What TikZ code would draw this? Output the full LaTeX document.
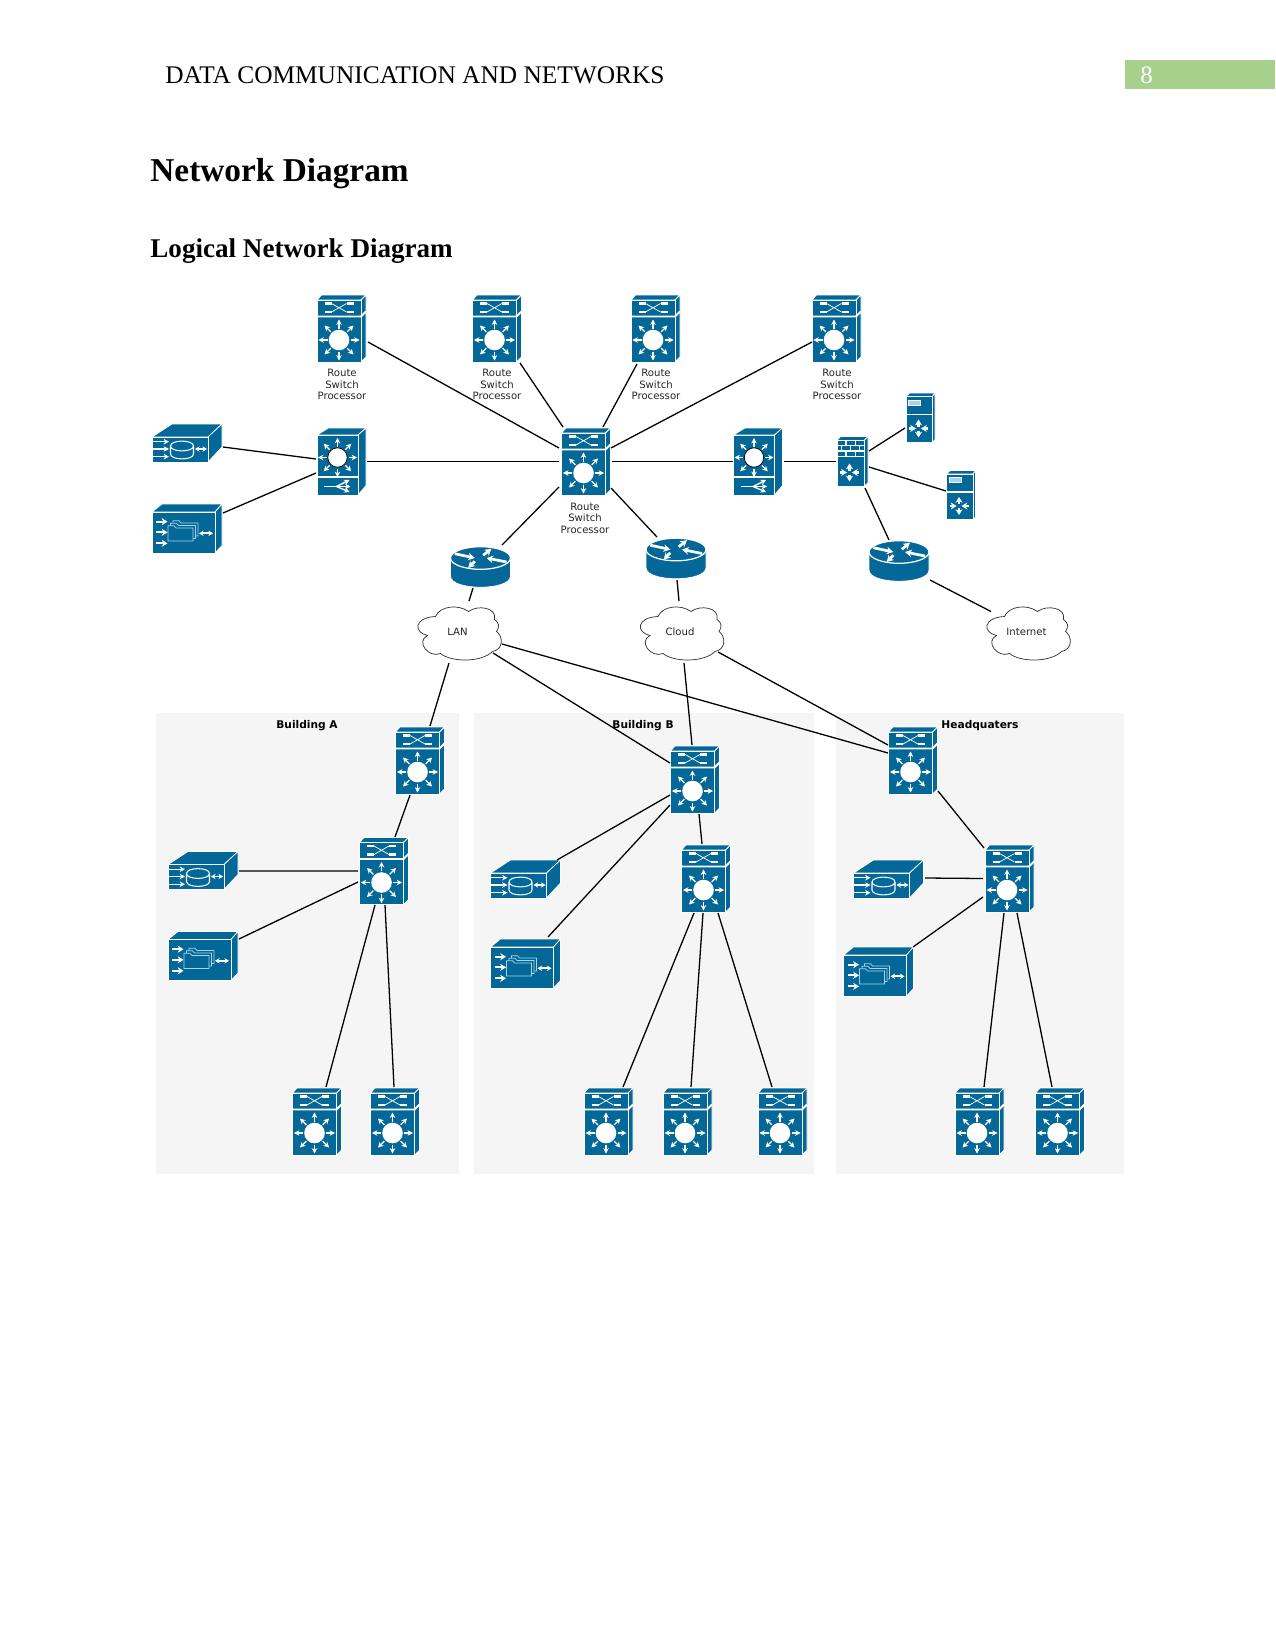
\documentclass[tikz,border=0pt]{standalone}
\usepackage{fontspec}
\setmainfont{Liberation Serif}
\newfontfamily\vf{DejaVu Sans}
\usetikzlibrary{arrows.meta}
\definecolor{ciscoblue}{HTML}{036897}
\definecolor{paneltint}{HTML}{F5F5F5}
\definecolor{headergreen}{HTML}{A8D08D}
\definecolor{foldertint}{HTML}{A9D4E8}
\tikzset{
  link/.style={black,line width=0.62pt},
  face/.style={fill=ciscoblue,draw=white,line width=0.35pt,line join=round},
  wl/.style={draw=white,line width=0.5pt},
  wa/.style={draw=white,line width=0.65pt,-{Stealth[length=2.6pt,width=2.7pt]}},
  wda/.style={draw=white,line width=0.6pt,{Stealth[length=2.2pt,width=2.6pt]}-{Stealth[length=2.2pt,width=2.6pt]}},
  wta/.style={draw=white,line width=1.1pt,-{Stealth[length=2.8pt,width=3.4pt]}},
  wra/.style={draw=white,line width=1.3pt,-{Stealth[length=3.2pt,width=3.6pt]}},
  tinytext/.style={font=\fontsize{4.85}{5.5}\selectfont\vf,align=center,inner sep=0pt,text=black!85},
  paneltitle/.style={font=\fontsize{5.1}{6}\selectfont\vf\bfseries,inner sep=0pt},
  panel/.style={fill=paneltint,draw=none},
  icsw/.pic={
    \path[face] (-24.5,-28.5) -- (-20,-33.5) -- (24.5,-33.5) -- (19.5,-28.5) -- cycle;
    \path[face] (19.5,-28.5) -- (24.5,-33.5) -- (24.5,28.5) -- (19.5,33.5) -- cycle;
    \path[face] (-24.5,-28.5) rectangle (19.5,33.5);
    \draw[white,line width=0.9pt] (-24.5,-12) -- (19.5,-12) -- (24.5,-17);
    \draw[white,line width=1.3pt] (-17,-25) -- (-10,-25) (-17,-16.5) -- (-10,-16.5) (5,-25) -- (12,-25) (5,-16.5) -- (12,-16.5);
    \draw[wl,line width=0.35pt] (-10,-25) -- (5,-16.5) (-10,-16.5) -- (5,-25);
    \begin{scope}[shift={(-2.5,11.5)}]
      \fill[white] (0,0) circle[radius=10.3];
      \foreach \a in {0,45,...,315} \draw[wa] (\a:11.5) -- (\a:20.5);
    \end{scope}
  },
  icml/.pic={
    \path[face] (-24.5,-26.5) -- (-13,-33.5) -- (24.5,-33.5) -- (16.5,-26.5) -- cycle;
    \path[face] (16.5,-26.5) -- (24.5,-33.5) -- (24.5,24) -- (16.5,33.5) -- cycle;
    \path[face] (-24.5,-26.5) rectangle (16.5,33.5);
    \draw[white,line width=0.8pt] (-24.5,15.5) -- (16.5,15.5);
    \begin{scope}[shift={(-4,-4)}]
      \fill[white,draw=black,line width=0.35pt] (0,0) circle[radius=9.7];
      \foreach \a in {0,45,...,315} \draw[wa] (\a:11) -- (\a:19.5);
    \end{scope}
    \draw[wl] (-17.5,25) -- (-5,25);
    \draw[wa] (-5,25) -- (8,18.5);
    \draw[wa] (-5,25) -- (9,25);
    \draw[wa] (-5,25) -- (8,30.5);
  },
  icdb/.pic={
    \path[face] (-35,-6) -- (-15,-19) -- (35,-19) -- (21,-6) -- cycle;
    \path[face] (21,-6) -- (35,-19) -- (35,4) -- (21,19) -- cycle;
    \path[face] (-35,-6) rectangle (21,19);
    \foreach \y in {-1.3,6,13.7} \draw[wa] (-35,\y) -- (-18,\y);
    \path[fill=ciscoblue,draw=white,line width=0.5pt] (-16.5,3) -- (-16.5,11) .. controls (-16.5,17.5) and (6.5,17.5) .. (6.5,11) -- (6.5,3) .. controls (6.5,-3.5) and (-16.5,-3.5) .. (-16.5,3) .. controls (-16.5,9.5) and (6.5,9.5) .. (6.5,3);
    \draw[wda] (8,6) -- (20,6);
  },
  icfile/.pic={
    \path[face] (-35,-16.5) -- (-25,-24.5) -- (35,-24.5) -- (28,-16.5) -- cycle;
    \path[face] (28,-16.5) -- (35,-24.5) -- (35,17) -- (28,24.5) -- cycle;
    \path[face] (-35,-16.5) rectangle (28,24.5);
    \foreach \y in {-6.8,3.8,14.8} \draw[wta,line width=0.85pt] (-31,\y) -- (-19.5,\y);
    \foreach \d in {5,2.5,0} {
      \path[fill=ciscoblue,draw=foldertint,line width=0.35pt] (-19+\d,-2.8-\d) -- (-13+\d,-2.8-\d) -- (-11+\d,-0.5-\d) -- (6+\d,-0.5-\d) -- (6+\d,12.5-\d) -- (-19+\d,12.5-\d) -- cycle;
    }
    \draw[wda,line width=0.85pt] (12,4.8) -- (26,4.8);
  },
  iccross/.pic={
    \draw[wta] (0,-2) -- (0,-9);
    \draw[wta] (0,2) -- (0,9);
    \draw[wta] (-9.5,0) -- (-2.5,0);
    \draw[wta] (9.5,0) -- (2.5,0);
  },
  icfw/.pic={
    \path[face] (-15.5,-21) -- (-12,-25) -- (15.5,-25) -- (11.5,-21) -- cycle;
    \path[face] (11.5,-21) -- (15.5,-25) -- (15.5,21) -- (11.5,25) -- cycle;
    \path[face] (-15.5,-21) rectangle (11.5,25);
    \draw[white,line width=0.7pt] (-15.5,-5) -- (11.5,-5);
    \draw[wl] (-15.5,-15.8) -- (11.5,-15.8) (-15.5,-10.5) -- (11.5,-10.5)
      (-6.5,-21) -- (-6.5,-15.8) (3,-21) -- (3,-15.8)
      (-11,-15.8) -- (-11,-10.5) (-2,-15.8) -- (-2,-10.5) (7,-15.8) -- (7,-10.5)
      (-6.5,-10.5) -- (-6.5,-5) (3,-10.5) -- (3,-5);
    \pic at (-3,11) {iccross};
  },
  icsrv/.pic={
    \path[face] (-14.5,-21) -- (-11,-24.5) -- (14.5,-24.5) -- (12,-21) -- cycle;
    \path[face] (12,-21) -- (14.5,-24.5) -- (14.5,22) -- (12,24.5) -- cycle;
    \path[face] (-14.5,-21) rectangle (12,24.5);
    \draw[white,line width=0.7pt] (-14.5,-3) -- (12,-3);
    \path[fill=foldertint,draw=white,line width=0.35pt] (-12,-17.5) rectangle (0,-12.5);
    \pic at (-2,11) {iccross};
  },
  icrt/.pic={
    \path[fill=ciscoblue,draw=white,line width=0.35pt] (-30,-9) -- (-30,9) .. controls (-30,24) and (30,24) .. (30,9) -- (30,-9) -- cycle;
    \path[fill=ciscoblue,draw=white,line width=0.6pt] (0,-9) ellipse[x radius=30,y radius=11.3];
    \draw[wra] (-25.7,-13.3) -- (-5.7,-9);
    \draw[wra] (2.7,-11.7) -- (11,-18.3);
    \draw[wra] (26,-5) -- (6,-9);
    \draw[wra] (-5.7,-5.7) -- (-12.3,1);
  },
  iccloud/.pic={
    \path[fill=white,draw=black!80,line width=0.35pt] (-24,-17)
      .. controls (-20,-27) and (-2,-30) .. (9,-22)
      .. controls (18,-29) and (38,-26) .. (35,-14)
      .. controls (40,-11) and (40,-6) .. (37,-2)
      .. controls (44,3) and (44,16) .. (33,18)
      .. controls (22,29) and (-8,29) .. (-19,20)
      .. controls (-31,25) and (-44,8) .. (-32,2)
      .. controls (-46,-1) and (-46,-16) .. (-24,-17) -- cycle;
  }
}
\newcommand{\ico}[6]{\node[inner sep=0pt,outer sep=0pt,minimum width=#5*0.48pt,minimum height=#6*0.48pt] (#1) at (#2,#3) {}; \pic at (#1) {#4};}
\newcommand{\sw}[3]{\ico{#1}{#2}{#3}{icsw}{49}{67}}
\newcommand{\ml}[3]{\ico{#1}{#2}{#3}{icml}{49}{67}}
\newcommand{\db}[3]{\ico{#1}{#2}{#3}{icdb}{70}{38}}
\newcommand{\fl}[3]{\ico{#1}{#2}{#3}{icfile}{70}{49}}
\newcommand{\rt}[3]{\ico{#1}{#2}{#3}{icrt}{60}{40}}
\newcommand{\srv}[3]{\ico{#1}{#2}{#3}{icsrv}{29}{49}}
\newcommand{\cld}[4]{\pic at (#2,#3) {iccloud}; \node[inner sep=0pt,outer sep=0pt,minimum size=1pt] (#1) at (#2,#3) {}; \node[inner sep=0pt,font=\fontsize{4.85}{5.5}\selectfont\vf,text=black!85] (#1t) at ([shift={(-2,-1.5)}]#1.center) {#4};}
\newcommand{\lnk}[6]{\draw[link] ([shift={(#2,#3)}]#1.center) -- ([shift={(#5,#6)}]#4.center);}
\begin{document}
\begin{tikzpicture}[x=0.48pt,y=-0.48pt]
\useasboundingbox (0,0) rectangle (1275,1651);
\fill[white] (0,0) rectangle (1275,1651);
% header
\fill[headergreen] (1125,60.5) rectangle (1275,89);
\node[anchor=base west,inner sep=0pt,font=\fontsize{12.18}{14}\selectfont] (hdr) at (165,84) {DATA COMMUNICATION AND NETWORKS};
\node[anchor=base west,inner sep=0pt,text=white,font=\fontsize{12}{14}\selectfont] (pg) at (1140,84) {8};
\node[anchor=base west,inner sep=0pt,font=\fontsize{16}{19}\selectfont\bfseries] (t1) at (150,182) {Network Diagram};
\node[anchor=base west,inner sep=0pt,font=\fontsize{13}{16}\selectfont\bfseries] (t2) at (150,257) {Logical Network Diagram};
% panels
\fill[panel] (156,713) rectangle (459,1174);
\fill[panel] (474,713) rectangle (814,1174);
\fill[panel] (836,713) rectangle (1124,1174);
\node[paneltitle] (ta) at (307,726) {Building A};
\node[paneltitle] (tb) at (643,726) {Building B};
\node[paneltitle] (tc) at (980,726) {Headquaters};
% upper devices
\sw{s1}{341.5}{328.5}
\sw{s2}{497}{328.5}
\sw{s3}{655.5}{328.5}
\sw{s4}{836.5}{328.5}
\sw{c}{586}{461.5}
\ml{m1}{341.5}{461.5}
\ml{m2}{758}{461.5}
\db{d1}{187}{443}
\fl{d2}{187}{528.5}
\ico{f}{852.5}{461.5}{icfw}{31}{50}
\srv{v1}{920.5}{417.5}
\srv{v2}{961}{495}
\rt{r1}{480.5}{567}
\rt{r2}{676}{558.5}
\rt{r3}{899}{561}
\cld{lan}{459.5}{633.5}{LAN}
\cld{cl}{682}{633.5}{Cloud}
\cld{inet}{1028.5}{633.5}{Internet}
\node[tinytext] (l1) at (342,384.5) {Route\\Switch\\Processor};
\node[tinytext] (l2) at (497,384.5) {Route\\Switch\\Processor};
\node[tinytext] (l3) at (656,384.5) {Route\\Switch\\Processor};
\node[tinytext] (l4) at (837,384.5) {Route\\Switch\\Processor};
\node[tinytext] (l5) at (585,518) {Route\\Switch\\Processor};
% building A
\sw{a1}{420}{760.5}
\sw{a2}{384}{871}
\sw{a3}{317}{1121.5}
\sw{a4}{395}{1121.5}
\db{adb}{203}{870.5}
\fl{afi}{203}{956}
% building B
\sw{b1}{695}{779.5}
\sw{b2}{706}{878.5}
\sw{b3}{608.5}{1121.5}
\sw{b4}{687.5}{1121.5}
\sw{b5}{782.5}{1121.5}
\db{bdb}{525.5}{879}
\fl{bfi}{525.5}{963.5}
% headquarters
\sw{h1}{913}{760.5}
\sw{h2}{1009.5}{878.5}
\sw{h3}{979.5}{1121.5}
\sw{h4}{1060}{1121.5}
\db{hdb}{888.5}{879}
\fl{hfi}{878.5}{971.5}
% connectors
\lnk{s1}{26.5}{13.5}{c}{-27}{-13.5}
\lnk{s2}{23}{34.5}{c}{-23}{-34.5}
\lnk{s3}{-18.5}{35.5}{c}{17}{-34.5}
\lnk{s4}{-24.5}{13.5}{c}{25}{-13.5}
\lnk{d1}{36}{4}{m1}{-25.5}{-2.5}
\lnk{d2}{36}{-15.5}{m1}{-25.5}{11.5}
\lnk{m1}{25.5}{0}{c}{-27}{0}
\lnk{c}{26}{0}{m2}{-25}{0}
\lnk{m2}{26}{0}{f}{-16.5}{0}
\lnk{f}{16.5}{-10.5}{v1}{-15.5}{10.5}
\lnk{f}{16.5}{5.5}{v2}{-15}{-4}
\lnk{f}{12.5}{26.5}{r3}{-10}{-21}
\lnk{r3}{31}{19}{inet}{-37.5}{-22}
\lnk{c}{-27}{25.5}{r1}{21.5}{-22}
\lnk{c}{25}{26.5}{r2}{-19}{-21.5}
\lnk{r1}{-7.5}{21}{lan}{9.5}{-32.5}
\lnk{r2}{1}{21.5}{cl}{-3}{-32.5}
\lnk{lan}{-10.5}{29.5}{a1}{10}{-34.5}
\lnk{lan}{33.5}{19.5}{b1}{-25}{-16.5}
\lnk{lan}{42.5}{10.5}{h1}{-25}{-7.5}
\lnk{cl}{2}{29.5}{b1}{-3}{-34.5}
\lnk{cl}{36}{18.5}{h1}{-25}{-15.5}
\lnk{a1}{-10}{34.5}{a2}{11}{-34}
\lnk{a2}{-26}{0}{adb}{36}{0.5}
\lnk{a2}{-26}{11}{afi}{36}{-17}
\lnk{a2}{-9}{34}{a3}{9}{-34.5}
\lnk{a2}{1}{34}{a4}{-1}{-34.5}
\lnk{b1}{4}{34.5}{b2}{-4}{-34.5}
\lnk{b1}{-25}{15.5}{bdb}{31.5}{-19}
\lnk{b1}{-25}{25.5}{bfi}{22.5}{-26.5}
\lnk{b2}{-12}{34.5}{b3}{14.5}{-34.5}
\lnk{b2}{-3}{34.5}{b4}{3.5}{-34.5}
\lnk{b2}{12}{34.5}{b5}{-10.5}{-34.5}
\lnk{h1}{25}{30.5}{h2}{-25.5}{-30.5}
\lnk{h2}{-26.5}{0}{hdb}{36.5}{-1}
\lnk{h2}{-26.5}{18.5}{hfi}{34.5}{-24.5}
\lnk{h2}{-5.5}{34.5}{h3}{4.5}{-34.5}
\lnk{h2}{7.5}{34.5}{h4}{-8}{-34.5}
\end{tikzpicture}
\end{document}
